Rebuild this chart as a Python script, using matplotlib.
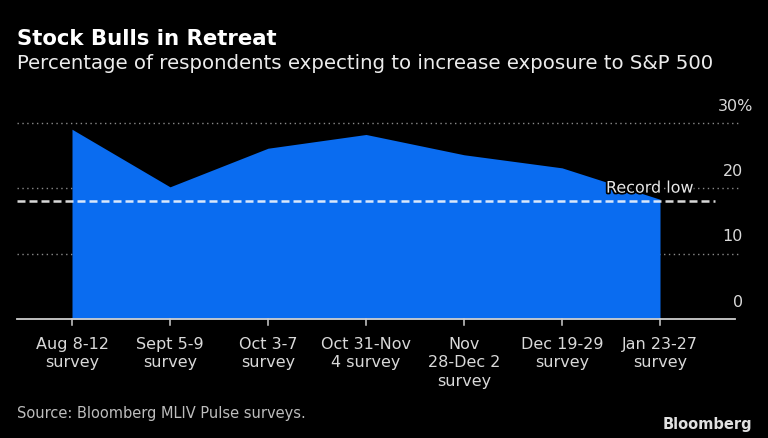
import matplotlib
matplotlib.use("Agg")
import matplotlib.pyplot as plt
import matplotlib.patheffects as pe

categories = ["Aug 8-12\nsurvey", "Sept 5-9\nsurvey", "Oct 3-7\nsurvey",
              "Oct 31-Nov\n4 survey", "Nov\n28-Dec 2\nsurvey",
              "Dec 19-29\nsurvey", "Jan 23-27\nsurvey"]
values = [29.0, 20.2, 26.1, 28.2, 25.1, 23.1, 18.3]
record_low = 18.1
yticks = [0, 10, 20, 30]
ytick_labels = ["0", "10", "20", "30%"]

W, H = 768, 438
fig = plt.figure(figsize=(W / 100, H / 100), dpi=100, facecolor="black")

def fx(px):
    return px / W

def fy(py):
    return 1 - py / H

x0, x1 = 17, 740
y_zero, y_top = 319, 122.7
ax = fig.add_axes([fx(x0), fy(y_zero), fx(x1) - fx(x0), fy(y_top) - fy(y_zero)])
ax.set_facecolor("black")
xs = list(range(len(categories)))
step = 98.0
ax.set_xlim(-(72 - x0) / step, 6 + (x1 - 660) / step)
ax.set_ylim(0, 30)
for s in ax.spines.values():
    s.set_visible(False)
ax.set_xticks([])
ax.set_yticks([])

def px2x(px):
    return 6 + (px - 660) / step

for v in yticks[1:]:
    ax.axhline(v, color="#8a8a8a", lw=1.0, ls=(0, (1, 2.5)), zorder=1, clip_on=False)

ax.fill_between(xs, values, 0, color="#0a6cf0", lw=0, zorder=2)

ax.plot([ax.get_xlim()[0], px2x(715)], [record_low, record_low],
        color="white", lw=1.8, ls=(0, (3.2, 1.6)), alpha=0.85, zorder=3, clip_on=False)

ax.plot([ax.get_xlim()[0], px2x(735)], [0, 0], color="#cfcfcf",
        lw=1.3, zorder=4, clip_on=False)
for x in xs:
    ax.plot([x, x], [0, -0.9], color="#cfcfcf", lw=1.1, zorder=4, clip_on=False)
    ax.text(x, -2.7, categories[x], ha="center", va="top", color="#d9d9d9",
            fontsize=11.5, linespacing=1.3, clip_on=False)

for v, lab in zip(yticks, ytick_labels):
    if lab.endswith("%"):
        ax.text(px2x(753), v + 1.4, lab, ha="right", va="bottom",
                color="#d9d9d9", fontsize=11.5, clip_on=False)
    else:
        ax.text(px2x(743), v + 1.4, lab, ha="right", va="bottom",
                color="#d9d9d9", fontsize=11.5, clip_on=False)

ax.text(px2x(650), 20.0, "Record low", ha="center", va="center",
        color="#e8e8e8", fontsize=11.5, zorder=5,
        path_effects=[pe.withStroke(linewidth=2.5, foreground="black")])

fig.text(fx(17), fy(45), "Stock Bulls in Retreat", color="white", fontsize=15.3,
         fontweight="bold", ha="left", va="baseline")
fig.text(fx(17), fy(69), "Percentage of respondents expecting to increase exposure to S&P 500",
         color="#ececec", fontsize=14.2, ha="left", va="baseline")
fig.text(fx(17), fy(418), "Source: Bloomberg MLIV Pulse surveys.", color="#bdbdbd",
         fontsize=10.5, ha="left", va="baseline")
fig.text(fx(752), fy(429), "Bloomberg", color="#e0e0e0", fontsize=10.5,
         fontweight="bold", ha="right", va="baseline")

fig.savefig("out.png", dpi=100, facecolor="black")
